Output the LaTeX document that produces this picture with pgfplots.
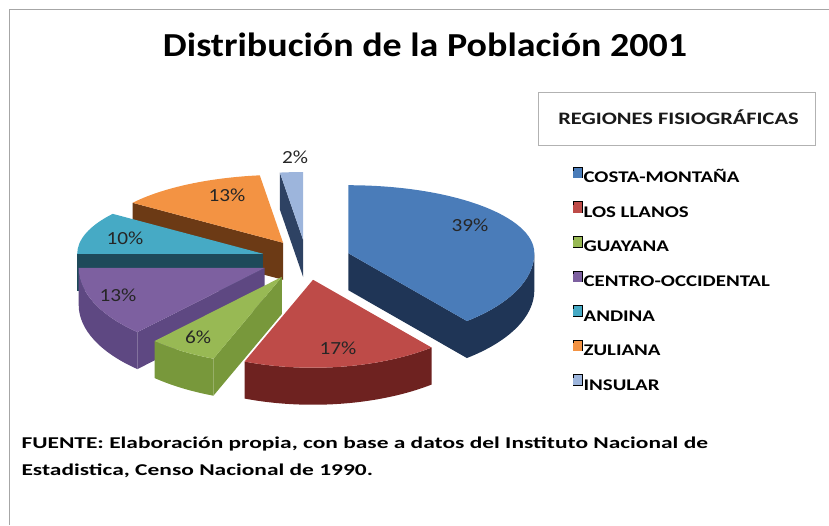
\documentclass[border=0pt]{standalone}
\usepackage{fontspec}
\setmainfont{Carlito}
\newfontfamily\widefont[FakeStretch=1.28]{Carlito}
\newfontfamily\notefont[FakeStretch=1.42]{Carlito}
\newfontfamily\pctfont[FakeStretch=1.15]{Carlito}
\newfontfamily\titlefont[FakeStretch=1.13]{Carlito}
\usepackage{pgfplots}
\usepackage{pgfplotstable}
\pgfplotsset{compat=1.18}

% top face / side colours of the slices
\definecolor{top0}{HTML}{4A7CB9}\definecolor{side0}{HTML}{1F3556}
\definecolor{top1}{HTML}{BE4B48}\definecolor{side1}{HTML}{6E2220}
\definecolor{top2}{HTML}{98B954}\definecolor{side2}{HTML}{78983B}
\definecolor{top3}{HTML}{7D60A0}\definecolor{side3}{HTML}{5E4882}
\definecolor{top4}{HTML}{46AAC5}\definecolor{side4}{HTML}{1E4A5A}
\definecolor{top5}{HTML}{F39343}\definecolor{side5}{HTML}{6C3A15}
\definecolor{top6}{HTML}{9DB5DC}\definecolor{side6}{HTML}{2E4263}

% percentage, label position (px, from top-left)
\pgfplotstableread{
pct lx ly
39 470 225
17 338 348
6  198 337
13 118 295
10 125 238
13 227 195
2  295 157
}\piedata

% pie geometry (pt)
\def\rx{186}\def\ryf{88}\def\ryb{68}\def\dep{37}
\def\cx{306}\def\cy{265}\def\ex{45}\def\ey{20}

% slice angles and exploded apex, clockwise from 12 o'clock
\gdef\cum{0}
\foreach \i in {0,...,6}{%
  \pgfplotstablegetelem{\i}{pct}\of\piedata
  \let\v\pgfplotsretval
  \pgfmathsetmacro\aB{90-3.6*\cum}%
  \pgfmathsetmacro\aA{90-3.6*(\cum+\v)}%
  \pgfmathsetmacro\sh{\aB<-179.5 ? 360 : 0}%
  \pgfmathsetmacro\aA{\aA+\sh}%
  \pgfmathsetmacro\aB{\aB+\sh}%
  \pgfmathsetmacro\mA{(\aA+\aB)/2}%
  \pgfmathsetmacro\PX{\cx+\ex*cos(\mA)}%
  \pgfmathsetmacro\PY{\cy+\ey*sin(\mA)}%
  \pgfmathsetmacro\nc{\cum+\v}%
  \xdef\cum{\nc}%
  \expandafter\xdef\csname pa\i\endcsname{\aA}%
  \expandafter\xdef\csname pb\i\endcsname{\aB}%
  \expandafter\xdef\csname px\i\endcsname{\PX}%
  \expandafter\xdef\csname py\i\endcsname{\PY}%
}

\newcommand\drawslice[1]{%
  \edef\aA{\csname pa#1\endcsname}%
  \edef\aB{\csname pb#1\endcsname}%
  \edef\PX{\csname px#1\endcsname}%
  \edef\PY{\csname py#1\endcsname}%
  \pgfmathsetmacro\PYd{\PY-\dep}%
  \pgfmathsetmacro\ryA{sin(\aA)<0 ? \ryf : \ryb}%
  \pgfmathsetmacro\ryB{sin(\aB)<0 ? \ryf : \ryb}%
  \pgfmathsetmacro\xA{\PX+\rx*cos(\aA)}%
  \pgfmathsetmacro\yA{\PY+\ryA*sin(\aA)}%
  \pgfmathsetmacro\yAd{\yA-\dep}%
  \pgfmathsetmacro\xB{\PX+\rx*cos(\aB)}%
  \pgfmathsetmacro\yB{\PY+\ryB*sin(\aB)}%
  \pgfmathsetmacro\yBd{\yB-\dep}%
  % cut face on the start edge
  \pgfmathtruncatemacro\vis{cos(\aA)>0.01}%
  \ifnum\vis=1
    \fill[side#1] (axis cs:\PX,\PY) -- (axis cs:\xA,\yA) -- (axis cs:\xA,\yAd) -- (axis cs:\PX,\PYd) -- cycle;
  \fi
  % cut face on the end edge
  \pgfmathtruncatemacro\vis{cos(\aB)<-0.01}%
  \ifnum\vis=1
    \fill[side#1] (axis cs:\PX,\PY) -- (axis cs:\xB,\yB) -- (axis cs:\xB,\yBd) -- (axis cs:\PX,\PYd) -- cycle;
  \fi
  % outer rim, front half only
  \pgfmathsetmacro\sA{max(\aA,-180)}%
  \pgfmathsetmacro\tA{min(\aB,0)}%
  \pgfmathtruncatemacro\vis{\tA-\sA>0.01}%
  \ifnum\vis=1
    \pgfmathsetmacro\xs{\PX+\rx*cos(\sA)}%
    \pgfmathsetmacro\ys{\PY+\ryf*sin(\sA)}%
    \pgfmathsetmacro\xt{\PX+\rx*cos(\tA)}%
    \pgfmathsetmacro\yt{\PY+\ryf*sin(\tA)-\dep}%
    \fill[side#1] (axis cs:\xs,\ys) arc[start angle=\sA,end angle=\tA,x radius=\rx pt,y radius=\ryf pt]
      -- (axis cs:\xt,\yt) arc[start angle=\tA,end angle=\sA,x radius=\rx pt,y radius=\ryf pt] -- cycle;
  \fi
  % top face
  \pgfmathsetmacro\mz{max(\aA,min(0,\aB))}%
  \def\arcs{}%
  \pgfmathtruncatemacro\vis{\mz-\aA>0.01}%
  \ifnum\vis=1 \edef\arcs{arc[start angle=\aA,end angle=\mz,x radius=\rx pt,y radius=\ryf pt]}\fi
  \pgfmathtruncatemacro\vis{\aB-\mz>0.01}%
  \ifnum\vis=1 \edef\arcs{\arcs arc[start angle=\mz,end angle=\aB,x radius=\rx pt,y radius=\ryb pt]}\fi
  \fill[top#1] (axis cs:\PX,\PY) -- (axis cs:\xA,\yA) \arcs -- cycle;
}

\begin{document}
\begin{tikzpicture}[x=1pt,y=1pt]
\useasboundingbox (0,0) rectangle (829,525);
\begin{axis}[
  at={(0pt,0pt)}, anchor=origin,
  x=1pt, y=1pt, xmin=0, xmax=829, ymin=0, ymax=525,
  hide axis, clip=false,
  legend image code/.code={%
    \path (0pt,0pt) rectangle (9pt,10.5pt);
    \fill[#1,draw=none,overlay] (0pt,-0.5pt) rectangle (9pt,7pt);},
  legend style={draw=none, fill=none, inner sep=0pt,
    at={(0.6912,0.6824)}, anchor=north west,
    font=\widefont\bfseries\fontsize{16.3}{17}\selectfont,
    row sep=18.6pt, column sep=1pt,
    nodes={inner sep=0pt, text height=10.5pt, text depth=0pt},
    cells={anchor=west}},
]
\pgfplotsextra{%
  \foreach \i in {6,5,0,4,3,2,1}{\drawslice{\i}}%
  \foreach \i in {0,...,6}{%
    \pgfplotstablegetelem{\i}{pct}\of\piedata \let\pc\pgfplotsretval
    \pgfplotstablegetelem{\i}{lx}\of\piedata \let\lx\pgfplotsretval
    \pgfplotstablegetelem{\i}{ly}\of\piedata
    \pgfmathsetmacro\lyy{525-\pgfplotsretval}%
    \node[font=\pctfont\fontsize{18.5}{20}\selectfont, text=black!85]
      at (axis cs:\lx,\lyy) {\pc\%};
  }%
}
\addlegendimage{fill=top0}\addlegendentry{COSTA-MONTAÑA}
\addlegendimage{fill=top1}\addlegendentry{LOS LLANOS}
\addlegendimage{fill=top2}\addlegendentry{GUAYANA}
\addlegendimage{fill=top3}\addlegendentry{CENTRO-OCCIDENTAL}
\addlegendimage{fill=top4}\addlegendentry{ANDINA}
\addlegendimage{fill=top5}\addlegendentry{ZULIANA}
\addlegendimage{fill=top6}\addlegendentry{INSULAR}

% frame, title, legend heading, source note
\draw[black!35, line width=1.5pt] (axis cs:9.5,0) -- (axis cs:9.5,515.5) -- (axis cs:829,515.5);
\node[anchor=base, font=\titlefont\bfseries\fontsize{33.6}{36}\selectfont]
  at (axis cs:425,468) {Distribución de la Población 2001};
\draw[black!30, line width=0.8pt] (axis cs:538,380) rectangle (axis cs:815,433);
\node[font=\widefont\bfseries\fontsize{17.5}{18}\selectfont, text=black!90]
  at (axis cs:678.5,408) {REGIONES FISIOGRÁFICAS};
\node[anchor=base west, font=\notefont\bfseries\fontsize{16.5}{17}\selectfont]
  at (axis cs:18,77) {FUENTE: Elaboración propia, con base a datos del Instituto\ Nacional de};
\node[anchor=base west, font=\notefont\bfseries\fontsize{16.5}{17}\selectfont]
  at (axis cs:18,50) {Estadistica, Censo Nacional de 1990.};
\end{axis}
\end{tikzpicture}
\end{document}
